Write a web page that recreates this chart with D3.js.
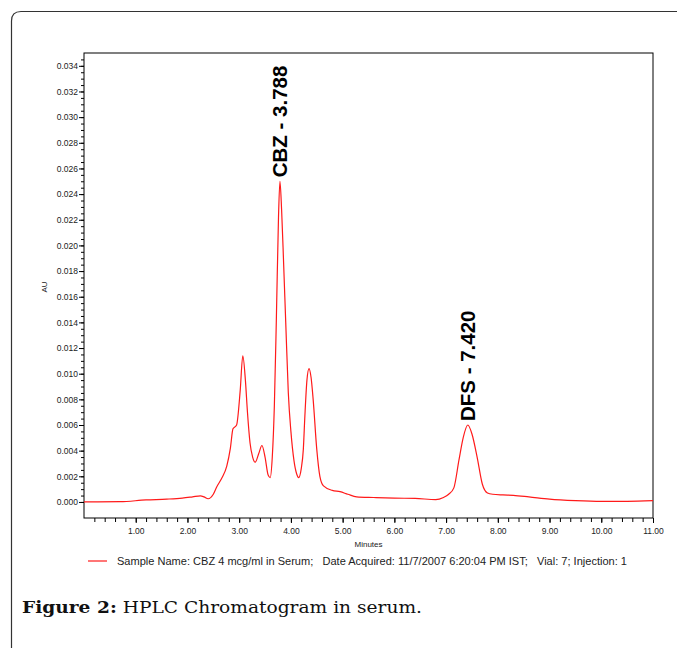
<!DOCTYPE html>
<html><head><meta charset="utf-8">
<script src="https://cdn.jsdelivr.net/npm/d3@7"></script>
<style>body{margin:0;background:#fff}svg{display:block}</style>
</head><body>
<svg id="c" width="677" height="648"></svg>
<script>
const times = [0,0.7,1.2,1.6,1.9,2.1,2.25,2.32,2.4,2.5,2.57,2.67,2.76,2.83,2.88,2.95,3.02,3.07,3.12,3.16,3.21,3.26,3.31,3.38,3.44,3.5,3.56,3.6,3.64,3.68,3.72,3.76,3.788,3.82,3.86,3.9,3.95,4.0,4.06,4.11,4.15,4.2,4.24,4.27,4.31,4.35,4.39,4.43,4.5,4.56,4.63,4.8,4.95,5.1,5.27,5.6,6.0,6.4,6.8,6.95,7.05,7.15,7.25,7.33,7.42,7.5,7.6,7.7,7.8,7.9,8.1,8.3,8.6,9.0,9.5,10.0,10.5,11.0];
const au = [0,0.00002,0.00016,0.00022,0.0003,0.0004,0.00048,0.0004,0.00025,0.0006,0.0012,0.0019,0.0028,0.0042,0.0057,0.0060,0.0087,0.0114,0.0095,0.0070,0.0046,0.0035,0.0031,0.0038,0.0044,0.0035,0.0021,0.0019,0.0035,0.0075,0.0145,0.0222,0.0250,0.0228,0.0185,0.0140,0.0085,0.0055,0.0032,0.0022,0.0019,0.0026,0.0041,0.0067,0.0095,0.0104,0.0097,0.0080,0.0041,0.0020,0.00125,0.0009,0.0008,0.0006,0.0004,0.00035,0.0003,0.00028,0.00018,0.00035,0.0006,0.0011,0.0033,0.0050,0.0060,0.0053,0.0035,0.0014,0.0007,0.0006,0.00055,0.00052,0.0004,0.00022,0.0001,0.00004,0.00005,0.0001];
const peakNames = ["CBZ - 3.788","DFS - 7.420"];
const peakTimes = [3.788,7.42];
const peakAU = [0.0250,0.0060];
const xTickLabels = ["1.00","2.00","3.00","4.00","5.00","6.00","7.00","8.00","9.00","10.00","11.00"];
const yTickLabels = ["0.000","0.002","0.004","0.006","0.008","0.010","0.012","0.014","0.016","0.018","0.020","0.022","0.024","0.026","0.028","0.030","0.032","0.034"];
const legendText = "Sample Name: CBZ 4 mcg/ml in Serum;   Date Acquired: 11/7/2007 6:20:04 PM IST;   Vial: 7; Injection: 1";

const svg = d3.select("#c");
const L=84, R=653, T=53, B=518;
const x = d3.scaleLinear().domain([0,11]).range([L,R]);
const y = d3.scaleLinear().domain([-0.00125,0.0350]).range([B,T]);

// outer frame
svg.append("path").attr("d","M11.5,660 L11.5,21 Q11.5,11.5 21,11.5 L690,11.5")
  .attr("fill","none").attr("stroke","#333").attr("stroke-width",1.2);

// plot box
svg.append("rect").attr("x",L).attr("y",T).attr("width",R-L).attr("height",B-T)
  .attr("fill","none").attr("stroke","#000").attr("stroke-width",1);

const font = "'Liberation Sans', Arial, sans-serif";

// x axis
const xMinor = d3.range(1,56).map(i=>i*0.2);
svg.append("g").attr("transform",`translate(0,${B})`)
  .call(d3.axisBottom(x).tickValues(xMinor).tickSize(4).tickFormat(""))
  .call(g=>g.select(".domain").remove())
  .call(g=>g.selectAll("line").attr("stroke","#000"));
const xMajor = xTickLabels.map(Number);
svg.append("g").attr("transform",`translate(0,${B})`)
  .call(d3.axisBottom(x).tickValues(xMajor).tickSize(5).tickPadding(5).tickFormat((d,i)=>xTickLabels[i]))
  .call(g=>g.select(".domain").remove())
  .call(g=>g.selectAll("line").attr("stroke","#000"))
  .call(g=>g.selectAll("text").attr("font-family",font).attr("font-size",8.5).attr("fill","#222"));

// y axis
const yMinor = d3.range(0,70).map(i=>i*0.0005).filter(v=>v<=0.0345);
svg.append("g").attr("transform",`translate(${L},0)`)
  .call(d3.axisLeft(y).tickValues(yMinor).tickSize(3).tickFormat(""))
  .call(g=>g.select(".domain").remove())
  .call(g=>g.selectAll("line").attr("stroke","#000"));
svg.append("g").attr("transform",`translate(${L},0)`)
  .call(d3.axisLeft(y).tickValues(yTickLabels.map(Number)).tickSize(5).tickPadding(1).tickFormat((d,i)=>yTickLabels[i]))
  .call(g=>g.select(".domain").remove())
  .call(g=>g.selectAll("line").attr("stroke","#000"))
  .call(g=>g.selectAll("text").attr("font-family",font).attr("font-size",8.5).attr("fill","#222"));

// axis titles
svg.append("text").attr("x",(L+R)/2).attr("y",547).attr("text-anchor","middle")
  .attr("font-family",font).attr("font-size",8).attr("fill","#222").text("Minutes");
svg.append("text").attr("transform","translate(47,287) rotate(-90)").attr("text-anchor","middle")
  .attr("font-family",font).attr("font-size",8).attr("fill","#222").text("AU");

// trace
const pts = times.map((t,i)=>[t,au[i]]);
svg.append("path").datum(pts)
  .attr("d",d3.line().x(d=>x(d[0])).y(d=>y(d[1])).curve(d3.curveMonotoneX))
  .attr("fill","none").attr("stroke","#ff1a1a").attr("stroke-width",1.2).attr("stroke-linejoin","round");

// peak labels
peakNames.forEach((n,i)=>{
  svg.append("text")
    .attr("transform",`translate(${x(peakTimes[i])+7},${y(peakAU[i])-4}) rotate(-90)`)
    .attr("font-family",font).attr("font-weight","bold").attr("font-size",20.5).attr("fill","#000")
    .text(n);
});

// legend
svg.append("line").attr("x1",88).attr("x2",107).attr("y1",561).attr("y2",561)
  .attr("stroke","#ff1a1a").attr("stroke-width",1.2);
svg.append("text").attr("x",117).attr("y",565).attr("font-family",font).attr("font-size",10.5)
  .attr("fill","#222").attr("textLength",510).attr("lengthAdjust","spacingAndGlyphs")
  .attr("xml:space","preserve").style("white-space","pre").text(legendText);

// caption
const cap = svg.append("text").attr("x",22).attr("y",613)
  .attr("font-family","'DejaVu Serif', 'Liberation Serif', serif").attr("font-size",17.5).attr("fill","#111")
  .attr("textLength",400).attr("lengthAdjust","spacingAndGlyphs");
cap.append("tspan").attr("font-weight","bold").text("Figure 2:");
cap.append("tspan").text(" HPLC Chromatogram in serum.");
</script>
</body></html>
